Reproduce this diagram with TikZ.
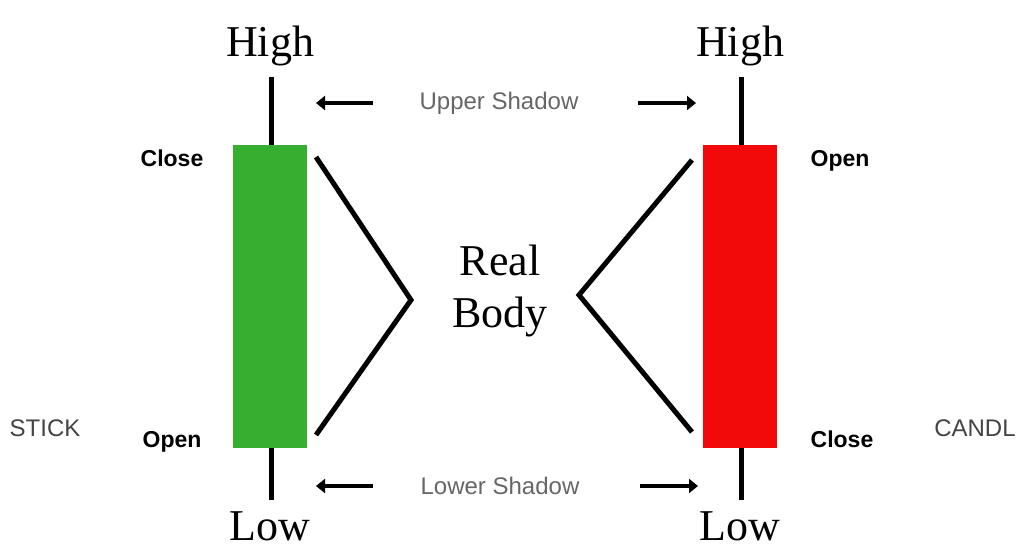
\documentclass[tikz,border=0pt]{standalone}
\usepackage{fontspec}
\setmainfont{Liberation Serif}
\newfontfamily\lsans{Liberation Sans}
\usetikzlibrary{arrows.meta}
\definecolor{cgreen}{HTML}{36AE30}
\definecolor{cred}{HTML}{F20A0A}
\definecolor{labgray}{HTML}{666666}
\definecolor{sidegray}{HTML}{444444}
\begin{document}
\begin{tikzpicture}[x=1pt,y=-1pt,
  serifbig/.style={font=\fontsize{44}{48}\selectfont, inner sep=0pt},
  boldlab/.style={font=\lsans\bfseries\fontsize{23}{26}\selectfont, inner sep=0pt, anchor=base},
  shadowlab/.style={font=\lsans\fontsize{24}{28}\selectfont, text=labgray, inner sep=0pt},
  sidelab/.style={font=\lsans\fontsize{24}{28}\selectfont, text=sidegray, inner sep=0pt},
  wick/.style={line width=5pt, black},
  vline/.style={line width=5pt, black, line join=miter},
  sharrow/.style={line width=4.5pt, black, -{Triangle[length=9pt,width=14pt]}},
  bodybox/.style={draw=none, minimum width=74pt, minimum height=303pt, inner sep=0pt}
]
\useasboundingbox (0,0) rectangle (1021,550);
\fill[white] (0,0) rectangle (1021,550);

% candle bodies
\node[bodybox, fill=cgreen] (gbody) at (269.5,296.5) {};
\node[bodybox, fill=cred] (rbody) at (739.5,296.5) {};

% wick end points
\coordinate (gtop) at (271,77);
\coordinate (gbot) at (271,500);
\coordinate (rtop) at (741,77);
\coordinate (rbot) at (741,500);
\draw[wick] (gtop) -- (gtop |- gbody.north);
\draw[wick] (gbot) -- (gbot |- gbody.south);
\draw[wick] (rtop) -- (rtop |- rbody.north);
\draw[wick] (rbot) -- (rbot |- rbody.south);

% High / Low labels
\node[serifbig] (hl) at (270,46) {High};
\node[serifbig] (hr) at (740,46) {High};
\node[serifbig] (ll) at (270,526) {Low};
\node[serifbig] (lr) at (740,526) {Low};

% Open / Close labels
\node[boldlab] (cl) at (172,166) {Close};
\node[boldlab] (ol) at (172,447) {Open};
\node[boldlab] (or) at (840,166) {Open};
\node[boldlab] (cr) at (842,447) {Close};

% side labels
\node[sidelab] (stick) at (45,428) {STICK};
\node[sidelab] (candl) at (975,428) {CANDL};

% Real Body
\node[serifbig, align=center] (rb) at (500,291) {Real\\[4pt]Body};

% V lines
\coordinate (lvt) at (316,157);
\coordinate (lvm) at (411,300);
\coordinate (lvb) at (316,435);
\coordinate (rvt) at (692,160);
\coordinate (rvm) at (579,295);
\coordinate (rvb) at (692,432);
\draw[vline] (lvt) -- (lvm) -- (lvb);
\draw[vline] (rvt) -- (rvm) -- (rvb);

% shadow labels and arrows
\node[shadowlab] (us) at (499,103) {Upper Shadow};
\node[shadowlab] (ls) at (500,486) {Lower Shadow};
\coordinate (ua1s) at (373,103);
\coordinate (ua1e) at (316,103);
\coordinate (ua2s) at (638,103);
\coordinate (ua2e) at (696,103);
\coordinate (la1s) at (373,486);
\coordinate (la1e) at (316,486);
\coordinate (la2s) at (640,486);
\coordinate (la2e) at (698,486);
\draw[sharrow] (ua1s) -- (ua1e);
\draw[sharrow] (ua2s) -- (ua2e);
\draw[sharrow] (la1s) -- (la1e);
\draw[sharrow] (la2s) -- (la2e);
\end{tikzpicture}
\end{document}
